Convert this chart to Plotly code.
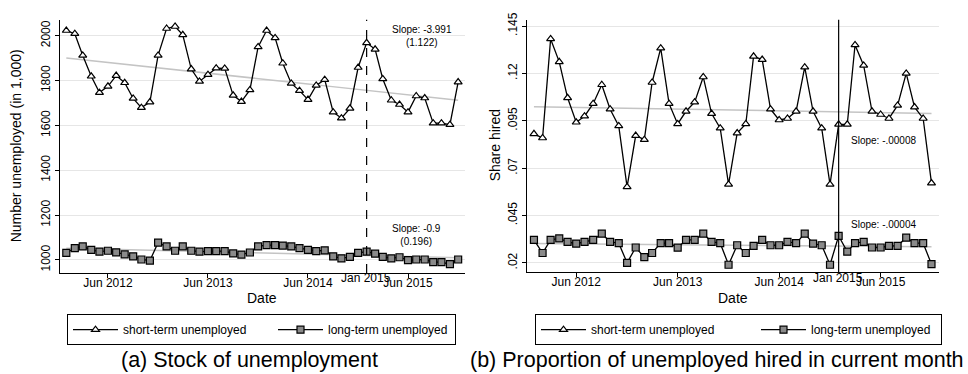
import numpy as np
import pandas as pd
import plotly.graph_objects as go

# Monthly observations, Jan 2012 - Dec 2015
months = pd.date_range("2012-01-01", periods=48, freq="MS")

# Panel (a): stock of unemployment (thousands)
stock_short = [2023, 2009, 1912, 1819, 1746, 1774, 1822, 1790, 1720, 1679, 1704, 1912,
               2032, 2041, 2004, 1851, 1796, 1826, 1855, 1854, 1734, 1706, 1758, 1950,
               2023, 1990, 1877, 1787, 1755, 1715, 1778, 1804, 1659, 1632, 1676, 1858,
               1968, 1939, 1807, 1712, 1693, 1659, 1731, 1722, 1610, 1610, 1603, 1793]
stock_long = [1031, 1053, 1060, 1045, 1037, 1041, 1034, 1025, 1016, 1002, 997, 1077,
              1060, 1041, 1060, 1041, 1037, 1039, 1039, 1039, 1029, 1024, 1033, 1060,
              1066, 1066, 1064, 1060, 1053, 1045, 1039, 1043, 1016, 1007, 1014, 1031,
              1037, 1028, 1014, 1007, 1012, 999, 1002, 1002, 990, 990, 981, 1002]

# Panel (b): share of unemployed hired in the month
hire_short = [.0881, .0859, .1382, .1261, .1071, .0942, .0974, .1040, .1140, .1011, .0923, .0601,
              .0872, .0850, .1152, .1333, .1040, .0933, .1000, .1048, .1181, .0988, .0911, .0614,
              .0885, .0933, .1290, .1273, .1011, .0954, .0962, .1000, .1233, .1000, .0911, .0614,
              .0931, .0931, .1350, .1242, .1000, .0983, .0962, .1031, .1200, .1022, .0962, .0621]
hire_long = [.0321, .0252, .0321, .0329, .0311, .0302, .0311, .0321, .0354, .0311, .0304, .0200,
             .0281, .0230, .0252, .0304, .0304, .0280, .0321, .0321, .0354, .0311, .0304, .0190,
             .0293, .0252, .0290, .0321, .0293, .0293, .0311, .0304, .0354, .0302, .0293, .0190,
             .0342, .0259, .0304, .0311, .0281, .0281, .0290, .0290, .0333, .0304, .0304, .0193]

stock_ticks = [1000, 1200, 1400, 1600, 1800, 2000]
hire_ticks = [.02, .045, .07, .095, .12, .145]
hire_tick_text = [".02", ".045", ".07", ".095", ".12", ".145"]
date_ticks = ["2012-06-01", "2013-06-01", "2014-06-01", "2015-06-01"]
date_tick_text = ["Jun 2012", "Jun 2013", "Jun 2014", "Jun 2015"]
break_date = "2015-01-01"

W, H = 968, 374
FONT = "Liberation Sans, Arial, sans-serif"


def trend(values):
    t = np.arange(len(values))
    b, a = np.polyfit(t, values, 1)
    return a + b * t


fig = go.Figure()

tri = dict(symbol="triangle-up", size=7, color="white", line=dict(color="black", width=1.2))
sq = dict(symbol="square", size=7, color="#8a8a8a", line=dict(color="black", width=1.2))
trend_line = dict(color="#c4c4c4", width=1.5)

panels = [("x", "y", "legend", stock_short, stock_long, (145, 122)),
          ("x2", "y2", "legend2", hire_short, hire_long, (160, 125))]
for xa, ya, leg, short, long_, widths in panels:
    fig.add_trace(go.Scatter(x=months, y=trend(short), mode="lines", line=trend_line,
                             xaxis=xa, yaxis=ya, showlegend=False, hoverinfo="skip"))
    fig.add_trace(go.Scatter(x=months, y=trend(long_), mode="lines", line=trend_line,
                             xaxis=xa, yaxis=ya, showlegend=False, hoverinfo="skip"))
    fig.add_trace(go.Scatter(x=months, y=short, mode="lines+markers", name="short-term unemployed",
                             line=dict(color="black", width=1.3), marker=tri,
                             xaxis=xa, yaxis=ya, legend=leg, legendwidth=widths[0]))
    fig.add_trace(go.Scatter(x=months, y=long_, mode="lines+markers", name="long-term unemployed",
                             line=dict(color="black", width=1.3), marker=sq,
                             xaxis=xa, yaxis=ya, legend=leg, legendwidth=widths[1]))


def px_x(p):
    return p / W


def px_y(p):
    return 1 - p / H


axis_common = dict(showline=True, linecolor="black", linewidth=1, ticks="outside",
                   ticklen=4, tickcolor="black", tickfont=dict(family=FONT, size=12, color="black"),
                   zeroline=False)

legend_common = dict(orientation="h", xanchor="left", yanchor="top",
                     bordercolor="black", borderwidth=1, bgcolor="white",
                     font=dict(family=FONT, size=12, color="black"), itemwidth=45)

fig.update_layout(
    width=W, height=H, margin=dict(l=0, r=0, t=0, b=0),
    paper_bgcolor="white", plot_bgcolor="white",
    font=dict(family=FONT, color="black"),
    xaxis=dict(domain=[px_x(60), px_x(465)], anchor="y", type="date",
               range=["2011-12-09", "2015-12-26"], tickvals=date_ticks, ticktext=date_tick_text,
               showgrid=False, ticklabelstandoff=-5, **axis_common),
    yaxis=dict(domain=[px_y(271), px_y(13)], anchor="x", range=[942, 2071],
               tickvals=stock_ticks, tickangle=-90, showgrid=True, gridcolor="#e6e6e6",
               gridwidth=1, **axis_common),
    xaxis2=dict(domain=[px_x(527), px_x(939)], anchor="y2", type="date",
                range=["2011-12-07", "2015-12-28"], tickvals=date_ticks, ticktext=date_tick_text,
                showgrid=False, ticklabelstandoff=-5, **axis_common),
    yaxis2=dict(domain=[px_y(270), px_y(13)], anchor="x2", range=[.0152, .1483],
                tickvals=hire_ticks, ticktext=hire_tick_text, tickangle=-90, showgrid=True,
                gridcolor="#e6e6e6", gridwidth=1, **axis_common),
    legend=dict(x=px_x(67), y=px_y(313), **legend_common),
    legend2=dict(x=px_x(535), y=px_y(313), **legend_common),
    showlegend=True,
)

# Vertical break lines at Jan 2015
fig.add_shape(type="line", xref="x", yref="y domain", x0=break_date, x1=break_date, y0=0, y1=1,
              line=dict(color="black", width=1.2, dash="dash"))
fig.add_shape(type="line", xref="x2", yref="y2 domain", x0=break_date, x1=break_date, y0=0, y1=1,
              line=dict(color="black", width=1.2))

notes = [
    # x (px), y (px), text, size
    (422, 30, "Slope: -3.991<br>(1.122)", 10),
    (416, 232, "Slope: -0.9<br>(0.196)", 10),
    (883, 136, "Slope: -.00008", 10),
    (883, 222, "Slope: -.00004", 10),
    (366, 276, "Jan 2015", 12),
    (838, 276, "Jan 2015", 12),
    (262, 297, "Date", 14),
    (733, 297, "Date", 14),
    (250, 360, "(a) Stock of unemployment", 21.5),
    (717, 360, "(b) Proportion of unemployed hired in current month", 21.5),
]
for x, y, text, size in notes:
    fig.add_annotation(x=px_x(x), y=px_y(y), xref="paper", yref="paper", text=text,
                       showarrow=False, xanchor="center", yanchor="middle",
                       font=dict(family=FONT, size=size, color="black"))

fig.add_annotation(x=px_x(16), y=px_y(142), xref="paper", yref="paper",
                   text="Number unemployed (in 1,000)", textangle=-90, showarrow=False,
                   xanchor="center", yanchor="middle", font=dict(family=FONT, size=14, color="black"))
fig.add_annotation(x=px_x(495), y=px_y(141), xref="paper", yref="paper",
                   text="Share hired", textangle=-90, showarrow=False,
                   xanchor="center", yanchor="middle", font=dict(family=FONT, size=14, color="black"))

fig.write_html("out.html")
